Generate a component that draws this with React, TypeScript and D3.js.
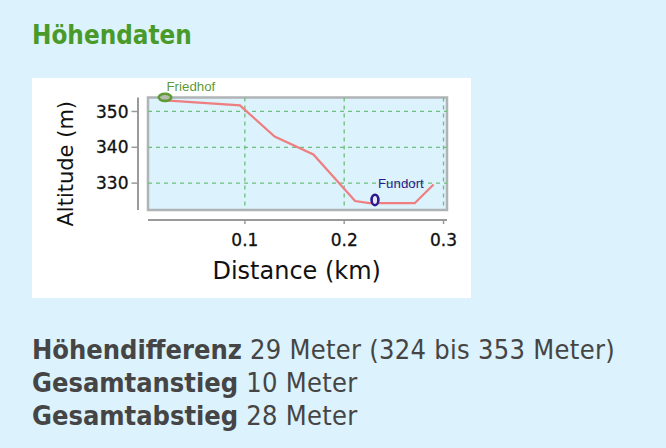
import React from "react";
import * as d3 from "d3";

const distances = [0.02, 0.095, 0.13, 0.169, 0.211, 0.225, 0.271, 0.29];
const altitudes = [353.1, 351.7, 343.0, 338.0, 325.0, 324.4, 324.4, 329.6];
const xTicks = [0.1, 0.2, 0.3];
const yTicks = [330, 340, 350];
const markerNames = ["Friedhof", "Fundort"];
const markerDist = [0.0196, 0.231];
const markerAlt = [353.95, 325.3];
const statLabels = ["Höhendifferenz", "Gesamtanstieg", "Gesamtabstieg"];
const statValues = ["29 Meter (324 bis 353 Meter)", "10 Meter", "28 Meter"];

const W = 666;
const H = 448;
const plot = { left: 148, right: 447, top: 97.5, bottom: 210 };

export default function App() {
  const x = d3.scaleLinear().domain([0.0025, 0.3035]).range([plot.left, plot.right]);
  const y = d3.scaleLinear().domain([322.5, 353.9]).range([plot.bottom, plot.top]);
  const pts: [number, number][] = distances.map((d, i) => [d, altitudes[i]]);
  const line = d3
    .line<[number, number]>()
    .x((p) => x(p[0]))
    .y((p) => y(p[1]));
  const markerColors = ["#5f9a36", "#2b1a8e"];
  const markerFill = ["#b4bcae", "#e8e6f6"];
  const markerR = [
    [6.3, 3.6],
    [3.4, 5.2],
  ];
  const textFont = "'DejaVu Sans Condensed', 'DejaVu Sans', sans-serif";
  return (
    <svg
      width={W}
      height={H}
      style={{ position: "absolute", left: 0, top: 0, display: "block" }}
    >
      <rect x={0} y={0} width={W} height={H} fill="#dcf2fc" />
      <text
        x={32}
        y={43.5}
        fontFamily={textFont}
        fontWeight="bold"
        fontSize={25.8}
        fill="#4a9a2a"
      >
        Höhendaten
      </text>
      <rect x={32} y={78} width={439} height={220} fill="#ffffff" />
      <rect
        x={plot.left}
        y={plot.top}
        width={plot.right - plot.left}
        height={plot.bottom - plot.top}
        fill="#dcf2fc"
        stroke="#b0b4b6"
        strokeWidth={2.5}
      />
      {xTicks.map((t) => (
        <line
          key={"gx" + t}
          x1={x(t)}
          x2={x(t)}
          y1={plot.top}
          y2={plot.bottom}
          stroke="#6cbf7c"
          strokeWidth={1.3}
          strokeDasharray="4,4"
        />
      ))}
      {yTicks.map((t) => (
        <line
          key={"gy" + t}
          x1={plot.left}
          x2={plot.right}
          y1={y(t)}
          y2={y(t)}
          stroke="#6cbf7c"
          strokeWidth={1.3}
          strokeDasharray="4,4"
        />
      ))}
      <path d={line(pts) || ""} fill="none" stroke="#ee7e80" strokeWidth={2.2} />
      {markerNames.map((n, i) => (
        <g key={n}>
          <ellipse
            cx={x(markerDist[i])}
            cy={y(markerAlt[i])}
            rx={markerR[i][0]}
            ry={markerR[i][1]}
            fill={markerFill[i]}
            stroke={markerColors[i]}
            strokeWidth={2.6}
          />
          <text
            x={x(markerDist[i]) + (i === 0 ? 1.5 : 3)}
            y={y(markerAlt[i]) + (i === 0 ? -6.5 : -11.5)}
            fontFamily="'Liberation Sans', Arial, sans-serif"
            fontSize={13.3}
            fill={markerColors[i]}
          >
            {n}
          </text>
        </g>
      ))}
      {/* y axis */}
      <line x1={138} x2={138} y1={plot.top} y2={plot.bottom} stroke="#9a9a9a" strokeWidth={2} />
      {yTicks.map((t) => (
        <g key={"yt" + t}>
          <line x1={131.5} x2={138} y1={y(t)} y2={y(t)} stroke="#9a9a9a" strokeWidth={1.5} />
          <text
            x={128.5}
            y={y(t)}
            dy="0.36em"
            textAnchor="end"
            fontFamily="'DejaVu Sans', sans-serif"
            fontSize={17}
            fill="#111"
            stroke="#111"
            strokeWidth={0.3}
          >
            {t}
          </text>
        </g>
      ))}
      <text
        transform={`translate(73,${(plot.top + plot.bottom) / 2 + 10}) rotate(-90)`}
        textAnchor="middle"
        fontFamily="'DejaVu Sans', sans-serif"
        fontSize={21}
        fill="#111"
      >
        Altitude (m)
      </text>
      {/* x axis */}
      <line x1={plot.left} x2={plot.right} y1={220} y2={220} stroke="#9a9a9a" strokeWidth={2} />
      {xTicks.map((t) => (
        <g key={"xt" + t}>
          <line x1={x(t)} x2={x(t)} y1={220} y2={224} stroke="#9a9a9a" strokeWidth={1.5} />
          <text
            x={x(t)}
            y={246.3}
            textAnchor="middle"
            fontFamily="'DejaVu Sans', sans-serif"
            fontSize={17}
            fill="#111"
            stroke="#111"
            strokeWidth={0.3}
          >
            {t.toFixed(1)}
          </text>
        </g>
      ))}
      <text
        x={296.7}
        y={279}
        textAnchor="middle"
        fontFamily="'DejaVu Sans', sans-serif"
        fontSize={24}
        fill="#111"
      >
        Distance (km)
      </text>
      {statLabels.map((l, i) => (
        <text
          key={l}
          x={32}
          y={358.5 + i * 33.3}
          fontFamily={textFont}
          fontSize={27}
          fill="#454545"
        >
          <tspan fontWeight="bold">{l}</tspan>
          <tspan letterSpacing={0.3}> {statValues[i]}</tspan>
        </text>
      ))}
    </svg>
  );
}
